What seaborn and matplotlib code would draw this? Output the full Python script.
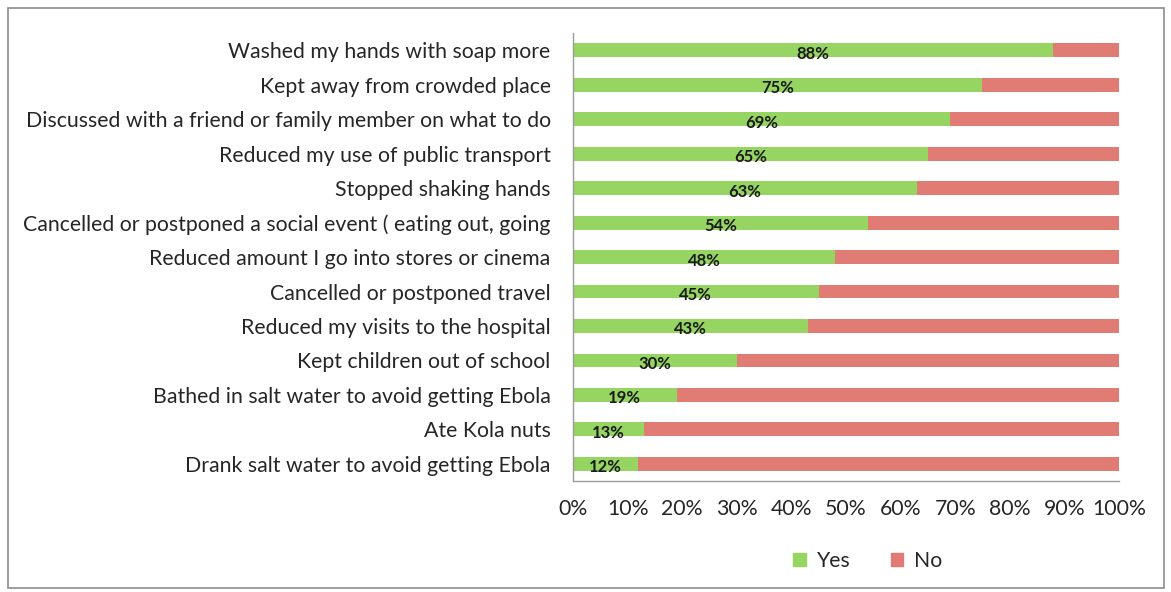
import matplotlib
matplotlib.use("Agg")
import matplotlib.pyplot as plt
import matplotlib.patches as mpatches
import seaborn as sns
import pandas as pd
import numpy as np

categories = [
    "Washed my hands with soap more",
    "Kept away from crowded place",
    "Discussed with a friend or family member on what to do",
    "Reduced my use of public transport",
    "Stopped shaking hands",
    "Cancelled or postponed a social event ( eating out, going",
    "Reduced amount I go into stores or cinema",
    "Cancelled or postponed travel",
    "Reduced my visits to the hospital",
    "Kept children out of school",
    "Bathed in salt water to avoid getting Ebola",
    "Ate Kola nuts",
    "Drank salt water to avoid getting Ebola",
]
yes_pct = [88, 75, 69, 65, 63, 54, 48, 45, 43, 30, 19, 13, 12]
no_pct = [100 - v for v in yes_pct]
x_ticks = [0, 10, 20, 30, 40, 50, 60, 70, 80, 90, 100]

GREEN = "#97d562"
RED = "#e07c73"
TEXT = "#262626"

sns.set_theme(style="white")
plt.rcParams["font.family"] = ["Lato", "DejaVu Sans"]

df = pd.DataFrame({"category": categories, "Yes": yes_pct, "No": no_pct})
df["total"] = df["Yes"] + df["No"]

fig = plt.figure(figsize=(11.71, 5.92), dpi=100)
ax = fig.add_axes([0.4893, 0.1875, 0.4663, 0.7565])

# full stack (Yes + No) drawn in red, then the Yes part on top in green
sns.barplot(data=df, x="total", y="category", orient="h", color=RED,
            width=0.4, saturation=1, linewidth=0, ax=ax)
sns.barplot(data=df, x="Yes", y="category", orient="h", color=GREEN,
            width=0.4, saturation=1, linewidth=0, ax=ax)

for i, v in enumerate(yes_pct):
    ax.text(v / 2, i + 0.1, f"{v}%", ha="center", va="center",
            fontsize=12, fontweight="bold", color="#1a1a1a")

ax.set_xlim(0, 100)
ax.set_ylim(len(categories) - 0.5, -0.5)
ax.set_xticks(x_ticks)
ax.set_xticklabels([f"{t}%" for t in x_ticks], fontsize=15.3, color=TEXT)
ax.set_yticks(np.arange(len(categories) + 1) - 0.5, minor=False)
ax.set_yticklabels([])
ax.set_yticks(np.arange(len(categories)), minor=True)
ax.set_yticklabels(categories, minor=True, fontsize=15.3, color=TEXT)
ax.tick_params(axis="y", which="major", length=5, width=1, color="#9a9a9a", direction="out")
ax.tick_params(axis="y", which="minor", length=0, pad=16)
ax.tick_params(axis="x", which="major", length=5, width=1, color="#9a9a9a", direction="out", pad=8)
ax.set_xlabel("")
ax.set_ylabel("")

for side in ("top", "right"):
    ax.spines[side].set_visible(False)
for side in ("left", "bottom"):
    ax.spines[side].set_color("#9a9a9a")
    ax.spines[side].set_linewidth(1)

handles = [mpatches.Patch(color=GREEN, label="Yes"),
           mpatches.Patch(color=RED, label="No")]
fig.legend(handles=handles, loc="center", bbox_to_anchor=(0.741, 0.052), ncol=2,
           frameon=False, fontsize=15.3, handlelength=0.6, handleheight=0.6,
           columnspacing=1.9, handletextpad=0.5, labelcolor=TEXT)

# outer frame around the whole chart area
fig.patches.append(mpatches.Rectangle((0.007, 0.007), 0.987, 0.98,
                                      transform=fig.transFigure, fill=False,
                                      edgecolor="#8c8c8c", linewidth=1.2))

fig.savefig("out.png", dpi=100)
